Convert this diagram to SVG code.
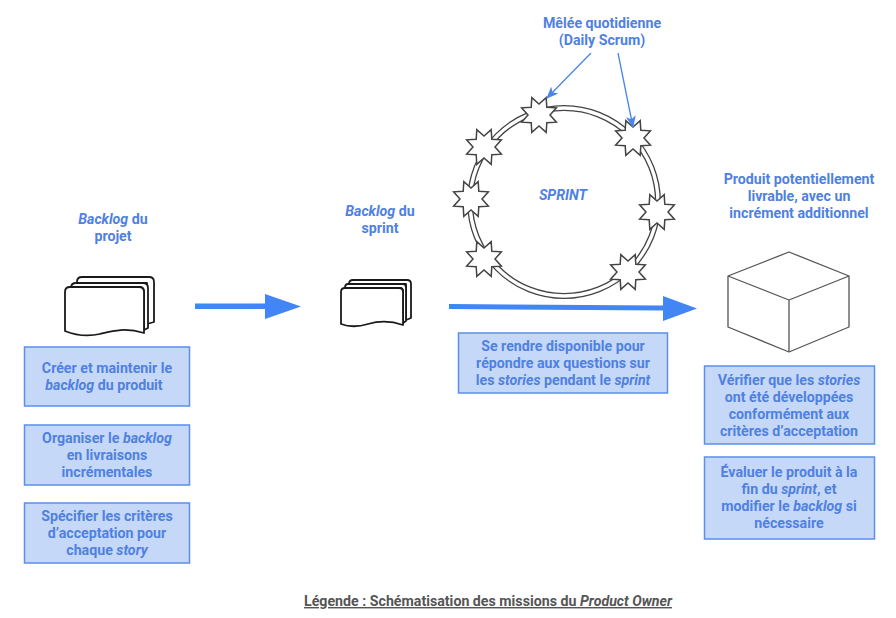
<svg xmlns="http://www.w3.org/2000/svg" xmlns:xlink="http://www.w3.org/1999/xlink" width="896" height="618" viewBox="0 0 896 618">
<style>
text{font-family:Roboto,"Liberation Sans",sans-serif;font-weight:700;font-size:14.2px;fill:#4f81e0;text-anchor:middle}
.i{font-style:italic}
.box{fill:#c6d8f8;stroke:#5b8fea;stroke-width:1.5}
.star{fill:#fff;stroke:#444;stroke-width:1.5;stroke-linejoin:miter}
.doc{fill:#fff;stroke:#1a1a1a;stroke-width:1.8;stroke-linejoin:round}
.cube{fill:#fff;stroke:#555;stroke-width:1.3;stroke-linejoin:round}
.thick{fill:#4285f4;stroke:none}
.thin{fill:none;stroke:#4a86e8;stroke-width:1.3}
</style>
<defs>
<polygon id="s" class="star" points="7.200,-17.400 7.800,-7.800 17.400,-7.200 11,0 17.400,7.200 7.800,7.800 7.200,17.400 0,11 -7.200,17.400 -7.800,7.800 -17.400,7.200 -11,0 -17.400,-7.200 -7.800,-7.800 -7.200,-17.400 0,-11"/>
<marker id="a" markerWidth="12" markerHeight="12" refX="11" refY="5" orient="auto" markerUnits="userSpaceOnUse"><path d="M0,0L12,5L0,10L3,5Z" fill="#4a86e8"/></marker>
</defs>
<rect width="896" height="618" fill="#fff"/>

<g id="sprint-ring">
<circle cx="564" cy="202" r="94" fill="none" stroke="#444" stroke-width="6"/>
<circle cx="564" cy="202" r="94" fill="none" stroke="#fff" stroke-width="3.400"/>
</g>
<g id="daily-1"><use href="#s" x="539" y="115"/></g>
<g id="daily-2"><use href="#s" x="633" y="138"/></g>
<g id="daily-3"><use href="#s" x="657" y="212"/></g>
<g id="daily-4"><use href="#s" x="628" y="272"/></g>
<g id="daily-5"><use href="#s" x="484" y="259"/></g>
<g id="daily-6"><use href="#s" x="471" y="199"/></g>
<g id="daily-7"><use href="#s" x="484" y="147"/></g>

<g id="connectors">
<path class="thick" d="M195,303.500H265V294L301,306.500L265,319V309H195Z"/>
<path class="thick" d="M449,304L663,305.500V296L697,308.500L663,321V310.500L449,309Z"/>
<path class="thin" d="M591,53L547,98" marker-end="url(#a)"/>
<path class="thin" d="M618,53L633,127" marker-end="url(#a)"/>
</g>

<g id="label-daily"><text x="602" y="28">Mêlée quotidienne</text><text x="602" y="45">(Daily Scrum)</text></g>
<g id="label-sprint"><text class="i" x="563" y="200">SPRINT</text></g>

<g id="label-backlog-projet"><text x="113" y="224"><tspan class="i">Backlog</tspan> du</text><text x="113" y="241">projet</text></g>
<g id="label-backlog-sprint"><text x="380" y="216"><tspan class="i">Backlog</tspan> du</text><text x="380" y="233">sprint</text></g>
<g id="label-produit"><text x="799" y="184">Produit potentiellement</text><text x="799" y="201">livrable, avec un</text><text x="799" y="218">incrément additionnel</text></g>

<g id="doc-large">
<path class="doc" d="M77,282Q77,277 82,277H149Q154,277 154,282V322L147,324V283H77Z"/>
<path class="doc" d="M71,288Q71,283 76,283H143Q148,283 148,288V328L144,330V292Q144,287 139,287H71Z"/>
<path class="doc" d="M65,292Q65,287 70,287H139Q144,287 144,292V333C125,327 112,331 100,334C87,337 75,335 65,331Z"/>
</g>
<g id="doc-small">
<path class="doc" d="M349,284Q349,280 353,280H407Q411,280 411,284V318L406,320V284H349Z"/>
<path class="doc" d="M345,288Q345,284 348,284H403Q406,284 406,288V321L403,323V291Q403,288 400,288H345Z"/>
<path class="doc" d="M341,292Q341,288 345,288H399Q403,288 403,292V325C389,320 378,321 368,324C358,327 349,327 341,324Z"/>
</g>
<g id="cube">
<path class="cube" d="M728,276L789,252L849,276V327L789,352L728,327Z"/>
<path class="cube" d="M728,276L789,300L849,276M789,300V352" fill="none"/>
</g>

<g id="box-creer"><rect class="box" x="24.500" y="347" width="165" height="59"/><text x="107" y="373">Créer et maintenir le</text><text x="104" y="390"><tspan class="i">backlog</tspan> du produit</text></g>
<g id="box-organiser"><rect class="box" x="24.500" y="425" width="165" height="60"/><text x="107" y="443">Organiser le <tspan class="i">backlog</tspan></text><text x="107" y="460">en livraisons</text><text x="107" y="477">incrémentales</text></g>
<g id="box-specifier"><rect class="box" x="24.500" y="503" width="165" height="60"/><text x="107" y="521">Spécifier les critères</text><text x="107" y="538">d’acceptation pour</text><text x="107" y="555">chaque <tspan class="i">story</tspan></text></g>
<g id="box-disponible"><rect class="box" x="458.500" y="333" width="209" height="60"/><text x="563" y="351">Se rendre disponible pour</text><text x="563" y="368">répondre aux questions sur</text><text x="563" y="385">les <tspan class="i">stories</tspan> pendant le <tspan class="i">sprint</tspan></text></g>
<g id="box-verifier"><rect class="box" x="704.500" y="366" width="170" height="78"/><text x="789" y="385">Vérifier que les <tspan class="i">stories</tspan></text><text x="789" y="402">ont été développées</text><text x="789" y="419">conformément aux</text><text x="789" y="436">critères d’acceptation</text></g>
<g id="box-evaluer"><rect class="box" x="704.500" y="457" width="170" height="82"/><text x="789" y="477">Évaluer le produit à la</text><text x="789" y="494">fin du <tspan class="i">sprint</tspan>, et</text><text x="789" y="511">modifier le <tspan class="i">backlog</tspan> si</text><text x="789" y="528">nécessaire</text></g>

<g id="legend"><text x="488" y="606" style="fill:#555;text-decoration:underline">Légende : Schématisation des missions du <tspan class="i">Product Owner</tspan></text></g>
</svg>
